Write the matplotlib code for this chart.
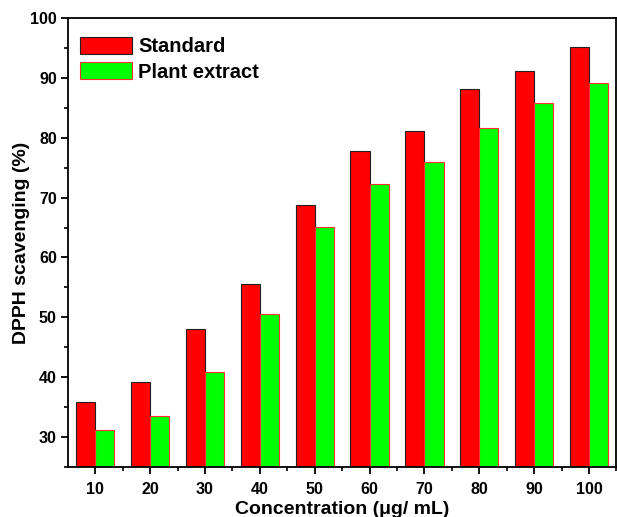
import numpy as np
import matplotlib
matplotlib.use("Agg")
import matplotlib.pyplot as plt
from matplotlib.ticker import MultipleLocator

plt.rcParams['font.family'] = ['Liberation Sans', 'DejaVu Sans']
plt.rcParams['font.weight'] = 'bold'

# data
concentrations = ["10", "20", "30", "40", "50", "60", "70", "80", "90", "100"]
standard = [35.8, 39.2, 48.0, 55.6, 68.7, 77.8, 81.2, 88.2, 91.2, 95.2]
plant_extract = [31.2, 33.5, 40.8, 50.5, 65.1, 72.3, 76.0, 81.6, 85.8, 89.1]

fig = plt.figure(figsize=(6.17, 5.17), dpi=100)
ax = fig.add_axes([0.110, 0.097, 0.889, 0.868])

x = np.arange(1, len(concentrations) + 1)
w = 0.35
ax.bar(x - w / 2, standard, w, color='#ff0000', edgecolor='#202020', linewidth=0.8,
       label='Standard', zorder=2)
ax.bar(x + w / 2, plant_extract, w, color='#00ff00', edgecolor='#ff3030', linewidth=0.8,
       label='Plant extract', zorder=2)

ax.set_xlim(0.5, 10.5)
ax.set_ylim(25, 100)
ax.set_xticks(x)
ax.set_xticklabels(concentrations)
ax.set_xticks(x + 0.5, minor=True)
ax.yaxis.set_minor_locator(MultipleLocator(5))
ax.set_yticks(np.arange(30, 101, 10))

ax.tick_params(which='major', direction='out', length=5, width=1.3, labelsize=11.5, pad=3)
ax.tick_params(which='minor', direction='out', length=3, width=1.2)
ax.tick_params(axis='x', which='major', pad=6)
for s in ax.spines.values():
    s.set_linewidth(1.3)

ax.set_xlabel('Concentration (\u03bcg/ mL)', fontsize=14, fontweight='bold', labelpad=3)
ax.set_ylabel('DPPH scavenging (%)', fontsize=14, fontweight='bold', labelpad=0)

leg = ax.legend(loc='upper left', bbox_to_anchor=(0.0, 0.985), frameon=False,
                handlelength=2.6, handleheight=0.9, handletextpad=0.3,
                borderaxespad=0.2, borderpad=0.4, labelspacing=0.3,
                prop={'weight': 'bold', 'size': 14.5})

fig.savefig('out.png', dpi=100)
